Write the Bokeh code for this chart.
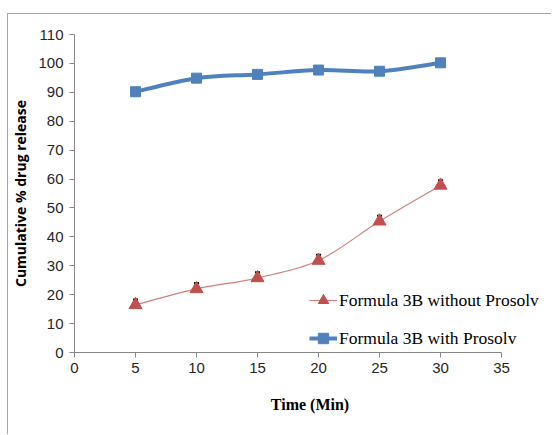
from bokeh.plotting import figure
from bokeh.models import Legend, LegendItem, FixedTicker, ColumnDataSource
from bokeh.embed import file_html
from bokeh.resources import INLINE

# ---- data ----
time_min = [5, 10, 15, 20, 25, 30]
with_prosolv = [90.2, 94.9, 96.2, 97.7, 97.3, 100.2]
without_prosolv = [16.5, 22.0, 25.8, 31.8, 45.4, 57.8]
without_err = [1.8, 2.0, 2.0, 2.0, 1.9, 1.8]
x_ticks = [0, 5, 10, 15, 20, 25, 30, 35]
y_ticks = [0, 10, 20, 30, 40, 50, 60, 70, 80, 90, 100, 110]

BLUE = "#4F81BD"
RED = "#C0504D"


def smooth_segments(xs, ys):
    """Catmull-Rom style smoothing expressed as cubic bezier control points."""
    n = len(xs)
    d = dict(x0=[], y0=[], x1=[], y1=[], cx0=[], cy0=[], cx1=[], cy1=[])
    for i in range(n - 1):
        ip = max(i - 1, 0)
        inn = min(i + 2, n - 1)
        d["x0"].append(xs[i]); d["y0"].append(ys[i])
        d["x1"].append(xs[i + 1]); d["y1"].append(ys[i + 1])
        d["cx0"].append(xs[i] + (xs[i + 1] - xs[ip]) / 6.0)
        d["cy0"].append(ys[i] + (ys[i + 1] - ys[ip]) / 6.0)
        d["cx1"].append(xs[i + 1] - (xs[inn] - xs[i]) / 6.0)
        d["cy1"].append(ys[i + 1] - (ys[inn] - ys[i]) / 6.0)
    return ColumnDataSource(d)


# frame extends past x=35 so the legend (which sits right of the axis end) is not clipped
p = figure(width=544, height=421, x_range=(0, 38.6), y_range=(0, 110),
           output_backend="svg", toolbar_location=None,
           min_border_left=64, min_border_right=7, min_border_top=20, min_border_bottom=83)
p.styles = {"margin-left": "7px", "margin-top": "13px",
            "border-left": "1px solid #a6a6a6", "border-top": "1px solid #a6a6a6"}
p.outline_line_color = None
p.xgrid.visible = False
p.ygrid.visible = False

TICK_FONT = "Liberation Sans Narrow, Liberation Sans, sans-serif"
for ax in (p.xaxis[0], p.yaxis[0]):
    ax.axis_line_color = "#868686"
    ax.major_tick_line_color = "#868686"
    ax.minor_tick_line_color = None
    ax.major_tick_in = 0
    ax.major_tick_out = 5
    ax.major_label_text_font = TICK_FONT
    ax.major_label_text_font_size = "15px"
    ax.major_label_text_color = "#262626"

p.xaxis.bounds = (0, 35)
p.xaxis.ticker = FixedTicker(ticks=x_ticks)
p.yaxis.ticker = FixedTicker(ticks=y_ticks)
p.xaxis.major_label_standoff = 5
p.yaxis.major_label_standoff = 6

p.xaxis.axis_label = "Time (Min)"
p.xaxis.axis_label_text_font = "Liberation Serif"
p.xaxis.axis_label_text_font_style = "bold"
p.xaxis.axis_label_text_font_size = "16px"
p.xaxis.axis_label_text_color = "black"
p.xaxis.axis_label_standoff = 20

p.yaxis.axis_label = "Cumulative % drug release"
p.yaxis.axis_label_text_font = "Open Sans"
p.yaxis.axis_label_text_font_style = "bold"
p.yaxis.axis_label_text_font_size = "14px"
p.yaxis.axis_label_text_color = "black"
p.yaxis.axis_label_standoff = 5

# blue series
src_b = smooth_segments(time_min, with_prosolv)
b_line = p.bezier(x0="x0", y0="y0", x1="x1", y1="y1", cx0="cx0", cy0="cy0",
                  cx1="cx1", cy1="cy1", source=src_b, line_color=BLUE, line_width=4)
b_pts = p.scatter(time_min, with_prosolv, marker="square", size=10,
                  fill_color=BLUE, line_color=BLUE)

# red series
src_r = smooth_segments(time_min, without_prosolv)
r_line = p.bezier(x0="x0", y0="y0", x1="x1", y1="y1", cx0="cx0", cy0="cy0",
                  cx1="cx1", cy1="cy1", source=src_r, line_color="#D27F7D", line_width=1.2)
upper = [v + e for v, e in zip(without_prosolv, without_err)]
p.segment(time_min, without_prosolv, time_min, upper, line_color="black", line_width=1.5)
p.scatter(time_min, upper, marker="dash", size=5, line_color="black", line_width=2)
r_pts = p.scatter(time_min, without_prosolv, marker="triangle", size=13,
                  fill_color=RED, line_color=RED)

legend = Legend(items=[
    LegendItem(label="Formula 3B without Prosolv", renderers=[r_line, r_pts]),
    LegendItem(label="Formula 3B with Prosolv", renderers=[b_line, b_pts]),
], location=(235, 1))
legend.label_text_font = "Liberation Serif"
legend.label_text_font_size = "17.5px"
legend.label_text_color = "black"
legend.glyph_width = 28
legend.glyph_height = 26
legend.spacing = 12
legend.padding = 0
legend.margin = 0
legend.label_standoff = 2
legend.border_line_color = None
legend.background_fill_alpha = 0
p.add_layout(legend)

open("out.html", "w").write(file_html(p, INLINE))
